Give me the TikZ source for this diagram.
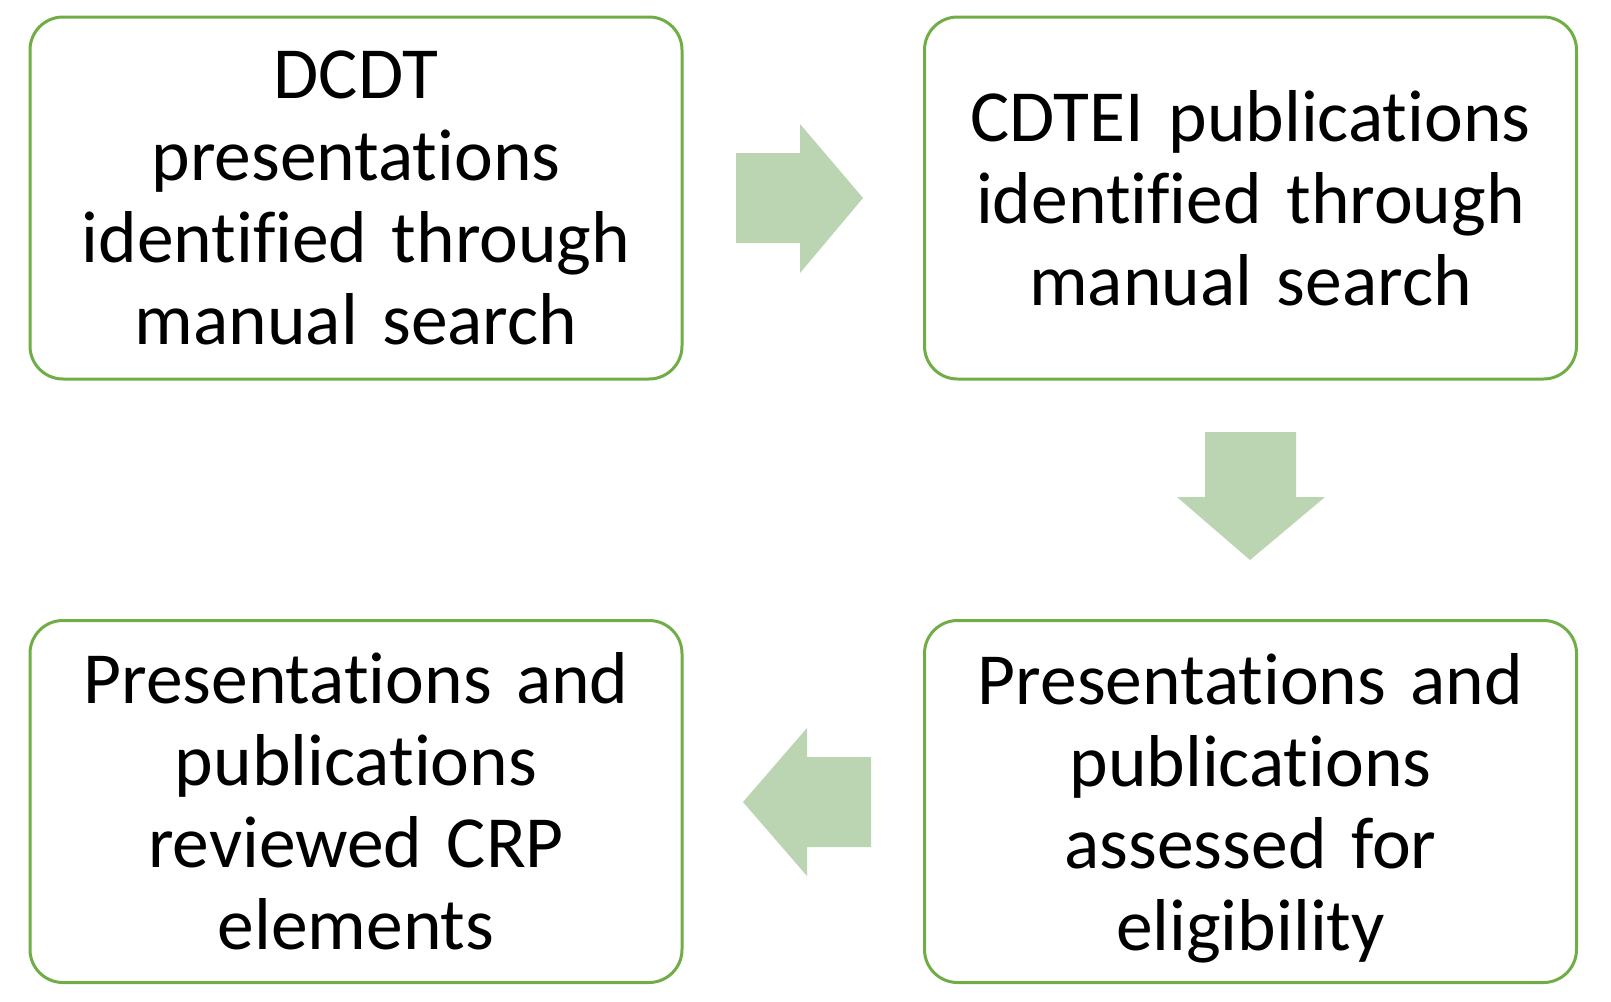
\documentclass[tikz,border=0pt]{standalone}
\usepackage{fontspec}
\setmainfont{Carlito}[Ligatures=NoCommon, WordSpace=0.85]
\definecolor{boxgreen}{RGB}{112,173,71}
\definecolor{arrowgreen}{RGB}{187,212,177}
\begin{document}
\begin{tikzpicture}[x=1pt,y=-1pt,
  stage/.style={draw=boxgreen, line width=3pt, rounded corners=33pt,
    minimum width=652pt, minimum height=362pt, text width=620pt,
    align=center, inner sep=0pt,
    font=\fontsize{73.5}{82}\selectfont},
  blockarrow/.style={fill=arrowgreen, draw=none}]
  \useasboundingbox (0,0) rectangle (1611,1001);

  % four stages of the review
  \node[stage] (dcdt)   at (356,198)    {DCDT\\presentations\\identified through\\manual search};
  \node[stage] (cdtei)  at (1250.5,198) {CDTEI publications\\identified through\\manual search};
  \node[stage] (assess) at (1250.5,801.5) {Presentations and\\publications\\assessed for\\\smash{eligibility}};
  \node[stage] (review) at (356,801.5)  {Presentations and\\publications\\reviewed CRP\\elements};

  % block arrows between the stages
  \fill[blockarrow] (736,153) -- (800,153) -- (800,124) -- (863,198)
    -- (800,273) -- (800,243) -- (736,243) -- cycle;
  \fill[blockarrow] (1205,432) -- (1296,432) -- (1296,497) -- (1325,497)
    -- (1250,560) -- (1177,497) -- (1205,497) -- cycle;
  \fill[blockarrow] (871,757) -- (807,757) -- (807,728) -- (743,802)
    -- (807,876) -- (807,847) -- (871,847) -- cycle;
\end{tikzpicture}
\end{document}
